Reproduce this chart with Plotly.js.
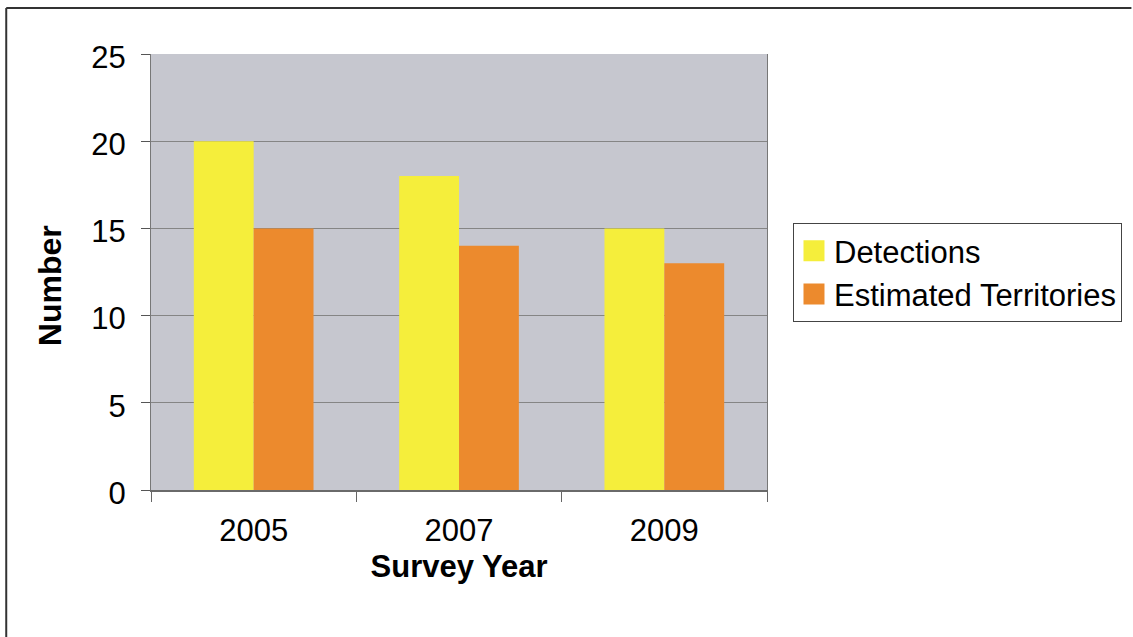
<!DOCTYPE html>
<html>
<head>
<meta charset="utf-8">
<script src="https://cdn.plot.ly/plotly-3.0.1.min.js"></script>
<style>
  html, body { margin: 0; padding: 0; background: #ffffff; overflow: hidden; }
  #chart { width: 1133px; height: 637px; }
</style>
</head>
<body>
<div id="chart"></div>
<script>
const years = ["2005", "2007", "2009"];
const detections = [20, 18, 15];
const territories = [15, 14, 13];
const yTicks = [0, 5, 10, 15, 20, 25];

const FONT = "Liberation Sans, Arial, sans-serif";

const traces = [
  {
    type: "bar",
    name: "Detections",
    x: years,
    y: detections,
    marker: { color: "#F5EE3B", line: { width: 0 } },
    hoverinfo: "x+y+name"
  },
  {
    type: "bar",
    name: "Estimated Territories",
    x: years,
    y: territories,
    marker: { color: "#EC8A2D", line: { width: 0 } },
    hoverinfo: "x+y+name"
  }
];

const layout = {
  width: 1133,
  height: 637,
  margin: { l: 151, r: 365, t: 54, b: 147, pad: 0 },
  paper_bgcolor: "#ffffff",
  plot_bgcolor: "#C6C7CF",
  font: { family: FONT, color: "#000000", size: 31 },
  barmode: "group",
  bargap: 0.417,
  bargroupgap: 0,
  showlegend: true,
  legend: {
    x: 1.0405,
    xanchor: "left",
    y: 0.612,
    yanchor: "top",
    bgcolor: "#ffffff",
    bordercolor: "#444444",
    borderwidth: 1,
    font: { family: FONT, size: 31, color: "#000000" },
    traceorder: "normal"
  },
  xaxis: {
    type: "category",
    tickson: "boundaries",
    ticks: "outside",
    ticklen: 10,
    tickwidth: 1,
    tickcolor: "#666666",
    showline: true,
    linecolor: "#6a6a6a",
    linewidth: 2,
    showgrid: false,
    tickfont: { family: FONT, size: 31, color: "#000000" },
    ticklabelstandoff: 12,
    title: {
      text: "Survey Year",
      font: { family: FONT, size: 31, color: "#000000", weight: "bold" },
      standoff: 8
    },
    fixedrange: true
  },
  yaxis: {
    range: [0, 25],
    tickvals: yTicks,
    ticks: "outside",
    ticklen: 9,
    tickwidth: 1,
    tickcolor: "#555555",
    showline: true,
    mirror: true,
    linecolor: "#777777",
    linewidth: 1,
    showgrid: true,
    gridcolor: "#858585",
    gridwidth: 1,
    zeroline: false,
    tickfont: { family: FONT, size: 31, color: "#000000" },
    ticklabelstandoff: 9,
    ticklabelshift: 3,
    fixedrange: true
  },
  annotations: [
    {
      text: "<b>Number</b>",
      xref: "paper",
      yref: "paper",
      x: (50 - 151) / 617,
      y: (490 - 286) / 436,
      xanchor: "center",
      yanchor: "middle",
      textangle: -90,
      showarrow: false,
      font: { family: FONT, size: 32, color: "#000000" }
    }
  ],
  shapes: [
    {
      type: "line",
      xref: "paper",
      yref: "paper",
      x0: (6 - 151) / 617,
      x1: (1133 - 151) / 617,
      y0: (490 - 8) / 436,
      y1: (490 - 8) / 436,
      line: { color: "#333333", width: 2 },
      layer: "below"
    },
    {
      type: "line",
      xref: "paper",
      yref: "paper",
      x0: (6 - 151) / 617,
      x1: (6 - 151) / 617,
      y0: (490 - 637) / 436,
      y1: (490 - 8) / 436,
      line: { color: "#333333", width: 2 },
      layer: "below"
    }
  ]
};

Plotly.newPlot("chart", traces, layout, { displayModeBar: false, staticPlot: true }).then(function (gd) {
  gd.querySelectorAll(".legendpoints path").forEach(function (p) {
    const t = p.getAttribute("transform") || "";
    p.setAttribute("transform", t + " scale(1.75)");
  });
});
</script>
</body>
</html>
